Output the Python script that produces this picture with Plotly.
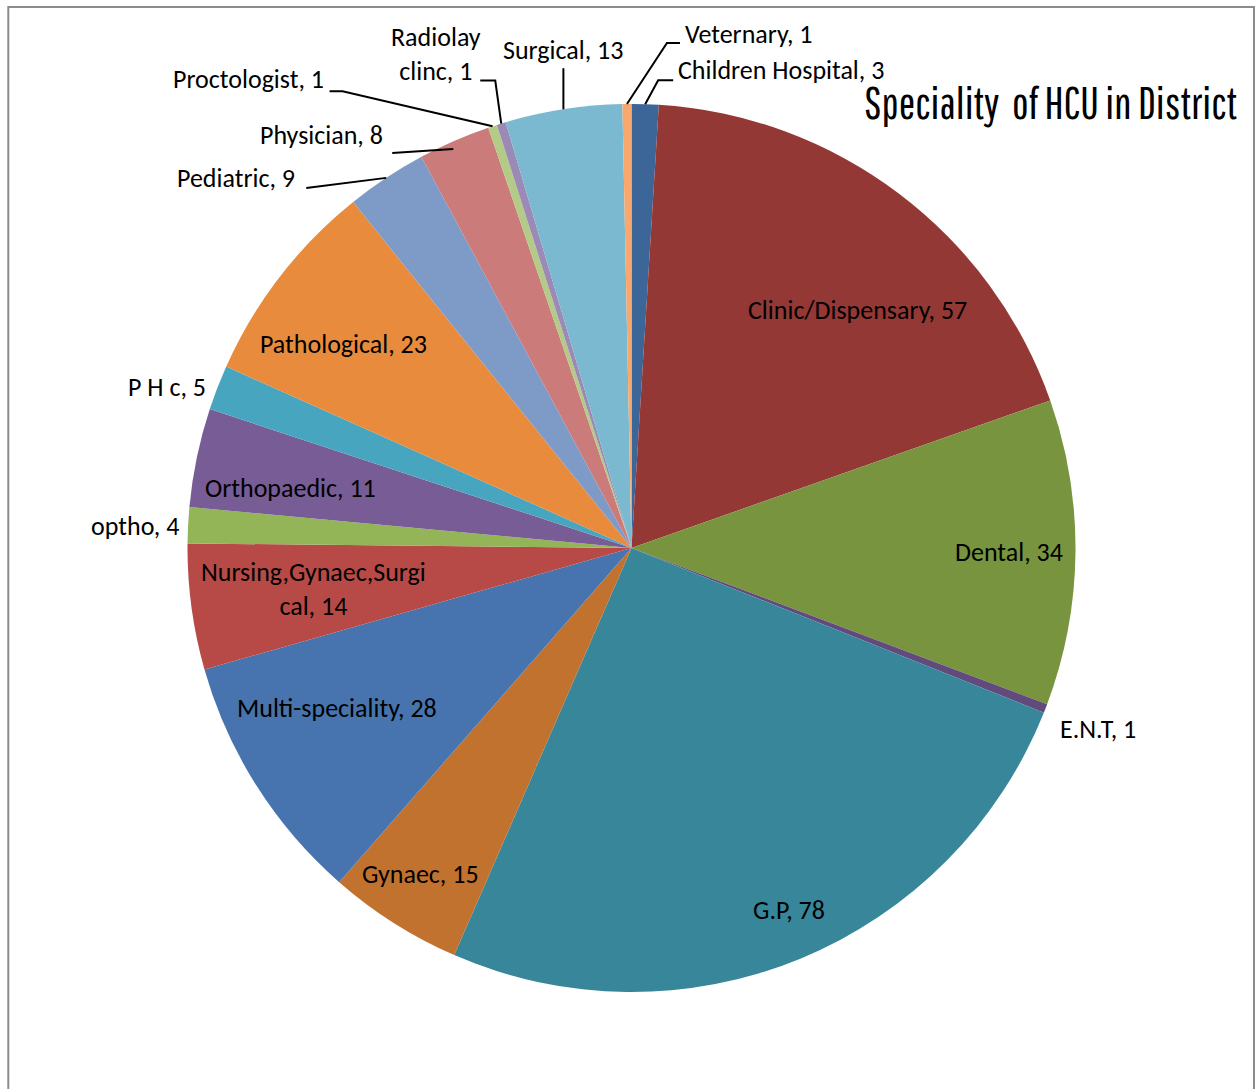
import math
import plotly.graph_objects as go

# ---------------- data ----------------
labels = ["Children Hospital", "Clinic/Dispensary", "Dental", "E.N.T", "G.P", "Gynaec",
          "Multi-speciality", "Nursing,Gynaec,Surgical", "optho", "Orthopaedic", "P H c",
          "Pathological", "Pediatric", "Physician", "Proctologist", "Radiolay clinc",
          "Surgical", "Veternary"]
values = [3, 57, 34, 1, 78, 15, 28, 14, 4, 11, 5, 23, 9, 8, 1, 1, 13, 1]
colors = ["#3C6598", "#943836", "#78943F", "#614B7D", "#37869A", "#C2722F",
          "#4774AE", "#B74A46", "#93B558", "#785C96", "#47A5BF", "#E98B3D",
          "#7E9BC8", "#CB7B79", "#B3CB86", "#9B8AB6", "#7AB9CF", "#F9A86D"]
title_text = "Speciality  of HCU in District"
label_wrap = {"Nursing,Gynaec,Surgical": "Nursing,Gynaec,Surgi<br>cal",
              "Radiolay clinc": "Radiolay<br>clinc"}

# ---------------- geometry / style ----------------
W, H = 1255, 1089
CX, CY, R = 631.5, 548.0, 444.0
LABEL_FONT = dict(family="Carlito, Calibri, Lato, sans-serif", size=26, color="black")
TITLE_FONT = dict(family="Pathway Gothic One, Arial Narrow, Oswald, sans-serif",
                  size=44, color="black")

inside_style = {
    "Clinic/Dispensary": (0.74, 6.4),
    "Dental": (0.85, 0.0),
    "G.P": (0.89, -1.2),
    "Gynaec": (0.874, 0.5),
    "Multi-speciality": (0.755, 3.8),
    "Nursing,Gynaec,Surgical": (0.723, 0.3),
    "Orthopaedic": (0.779, -1.8),
    "Pathological": (0.794, -2.3),
}
outside_style = {
    "Children Hospital": dict(t=(31, -34), a="left", lead=[(0, 0), (13, -24), (28, -24)]),
    "Veternary": dict(t=(56, -70), a="left", lead=[(0, 0), (40, -61), (53, -61)]),
    "Surgical": dict(t=(0, -59), a="center", lead=[(0, 0), (0, -41)]),
    "Radiolay clinc": dict(t=(-65, -70), a="center", lead=[(0, 0), (-6, -43), (-21, -43)]),
    "Proctologist": dict(t=(-167, -47), a="right", lead=[(0, 0), (-150, -35), (-163, -35)]),
    "Physician": dict(t=(-69, -6), a="right", lead=[(-1, 8), (-62, 12)]),
    "Pediatric": dict(t=(-89, 0), a="right", lead=[(0, 0), (-80, 10)]),
    "P H c": dict(t=(-9, -1), a="right", lead=None),
    "optho": dict(t=(-7, 1), a="right", lead=None),
    "E.N.T": dict(t=(12, 21), a="left", lead=None),
}


def px(x):
    return x / W


def py(y):
    return 1 - y / H


fig = go.Figure()
fig.add_trace(go.Pie(
    labels=labels, values=values, sort=False, direction="clockwise", rotation=0,
    marker=dict(colors=colors, line=dict(width=0)),
    textinfo="none", showlegend=False, hoverinfo="label+value",
    domain=dict(x=[px(CX - R), px(CX + R)], y=[py(CY + R), py(CY - R)]),
))

total = float(sum(values))
annotations = []
shapes = []
cum = 0.0
for lab, val in zip(labels, values):
    mid = (cum + val / 2.0) / total * 360.0
    cum += val
    text = f"{label_wrap.get(lab, lab)}, {val}"
    if lab in inside_style:
        f, dth = inside_style[lab]
        th = math.radians(mid + dth)
        x = CX + f * R * math.sin(th)
        y = CY - f * R * math.cos(th)
        annotations.append(dict(x=px(x), y=py(y), xref="paper", yref="paper", text=text,
                                showarrow=False, font=LABEL_FONT, xanchor="center",
                                yanchor="middle", align="center"))
    else:
        st = outside_style[lab]
        th = math.radians(mid)
        ex = CX + R * math.sin(th)
        ey = CY - R * math.cos(th)
        tx, ty = ex + st["t"][0], ey + st["t"][1]
        annotations.append(dict(x=px(tx), y=py(ty), xref="paper", yref="paper", text=text,
                                showarrow=False, font=LABEL_FONT, xanchor=st["a"],
                                yanchor="middle", align="center"))
        if st["lead"]:
            pts = [(ex + dx, ey + dy) for dx, dy in st["lead"]]
            path = "M " + " L ".join(f"{px(a):.5f},{py(b):.5f}" for a, b in pts)
            shapes.append(dict(type="path", path=path, xref="paper", yref="paper",
                               line=dict(color="black", width=2)))

annotations.append(dict(x=px(1239), y=py(103), xref="paper", yref="paper", text=title_text,
                        showarrow=False, xanchor="right", yanchor="middle", font=TITLE_FONT))

# chart frame
shapes.append(dict(type="rect", xref="paper", yref="paper",
                   x0=px(8.3), y0=-0.05, x1=px(1254), y1=py(7),
                   line=dict(color="#8C8C8C", width=2), fillcolor="rgba(0,0,0,0)"))

fig.update_layout(width=W, height=H, margin=dict(l=0, r=0, t=0, b=0),
                  paper_bgcolor="white", plot_bgcolor="white",
                  annotations=annotations, shapes=shapes)

fig.write_html("out.html", config={"displayModeBar": False},
               post_script="document.body.style.margin='0';")
